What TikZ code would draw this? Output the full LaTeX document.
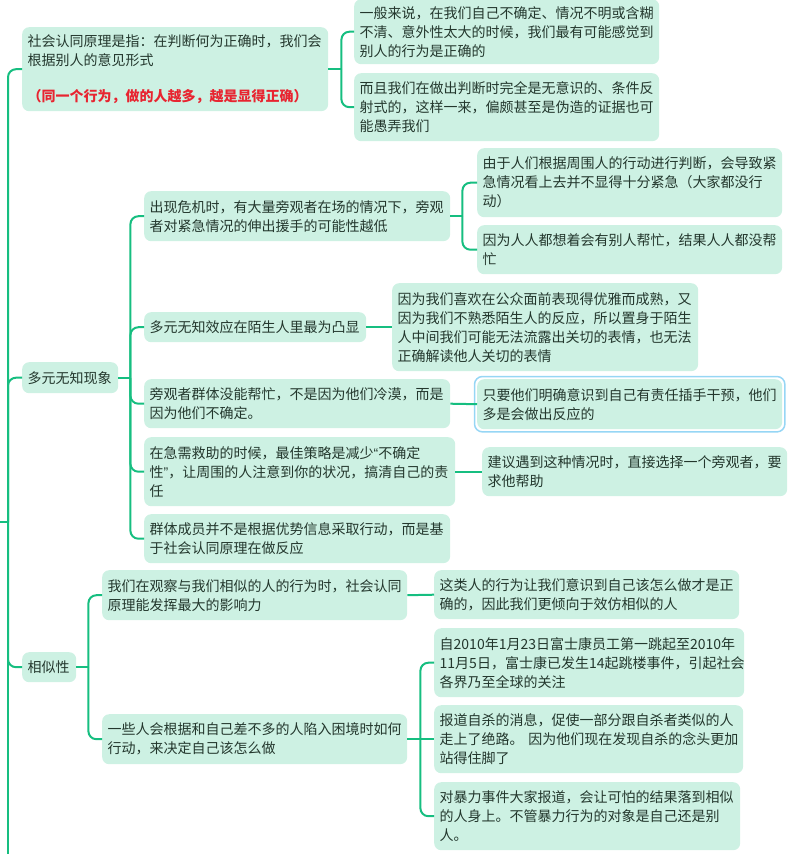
\documentclass[tikz,border=0pt]{standalone}
\usepackage{fontspec}
\setmainfont{Noto Sans CJK SC}
\newfontfamily\quotefont{Liberation Sans}
\usepackage{tikz}
\definecolor{mapgreen}{RGB}{22,190,128}
\definecolor{mapfill}{RGB}{205,241,227}
\definecolor{maptext}{RGB}{35,55,45}
\definecolor{mapred}{RGB}{232,36,48}
\definecolor{mapblue}{RGB}{150,214,245}

\begin{document}
\begin{tikzpicture}[x=1pt, y=-1pt,
  topic/.style={anchor=north west, fill=mapfill, text=maptext, rounded corners=7pt,
    font=\fontsize{14}{19}\selectfont, align=left, inner xsep=5.5pt, inner ysep=2pt},
  link/.style={mapgreen, line width=2pt, rounded corners=8pt}]
\useasboundingbox (0,0) rectangle (800,854);

% social proof rule
\node[topic, text width=295pt, minimum height=84pt] (rule) at (22,27)
  {社会认同原理是指：在判断何为正确时，我们会\\根据别人的意见形式\\[17pt]{\color{mapred}\bfseries （同一个行为，做的人越多，越是显得正确）}};
\node[topic, text width=294pt, minimum height=65pt] (rule1) at (354,-1)
  {一般来说，在我们自己不确定、情况不明或含糊\\不清、意外性太大的时候，我们最有可能感觉到\\别人的行为是正确的};
\node[topic, text width=294pt, minimum height=68pt] (rule2) at (354,73)
  {而且我们在做出判断时完全是无意识的、条件反\\射式的，这样一来，偏颇甚至是伪造的证据也可\\能愚弄我们};

% pluralistic ignorance
\node[topic, text width=85pt, minimum height=31pt] (ign) at (22,362) {多元无知现象};
\node[topic, text width=295pt, minimum height=50pt] (ign1) at (144,191)
  {出现危机时，有大量旁观者在场的情况下，旁观\\者对紧急情况的伸出援手的可能性越低};
\node[topic, text width=294pt, minimum height=69pt] (ign1a) at (477,148)
  {由于人们根据周围人的行动进行判断，会导致紧\\急情况看上去并不显得十分紧急（大家都没行\\动）};
\node[topic, text width=294pt, minimum height=49pt] (ign1b) at (477,225)
  {因为人人都想着会有别人帮忙，结果人人都没帮\\忙};
\node[topic, text width=211pt, minimum height=30pt] (ign2) at (144,312) {多元无知效应在陌生人里最为凸显};
\node[topic, text width=295pt, minimum height=88pt] (ign2a) at (392,283)
  {因为我们喜欢在公众面前表现得优雅而成熟，又\\因为我们不熟悉陌生人的反应，所以置身于陌生\\人中间我们可能无法流露出关切的表情，也无法\\正确解读他人关切的表情};
\node[topic, text width=295pt, minimum height=49pt] (ign3) at (144,379)
  {旁观者群体没能帮忙，不是因为他们冷漠，而是\\因为他们不确定。};
\node[topic, text width=294pt, minimum height=50pt] (ign3a) at (477,379)
  {只要他们明确意识到自己有责任插手干预，他们\\多是会做出反应的};
\draw[mapblue, line width=1.5pt, rounded corners=8pt] ([shift={(-2.5pt,2.5pt)}]ign3a.north west) rectangle ([shift={(2.5pt,-2.5pt)}]ign3a.south east);
\node[topic, text width=300pt, minimum height=69pt] (ign4) at (144,437)
  {在急需救助的时候，最佳策略是减少{\quotefont “}不确定\\性{\quotefont ”}，让周围的人注意到你的状况，搞清自己的责\\任};
\node[topic, text width=294pt, minimum height=49pt] (ign4a) at (482,447)
  {建议遇到这种情况时，直接选择一个旁观者，要\\求他帮助};
\node[topic, text width=295pt, minimum height=49pt] (ign5) at (144,514)
  {群体成员并不是根据优势信息采取行动，而是基\\于社会认同原理在做反应};

% similarity
\node[topic, text width=43pt, minimum height=30pt] (sim) at (22,652) {相似性};
\node[topic, text width=294pt, minimum height=50pt] (sim1) at (102,570)
  {我们在观察与我们相似的人的行为时，社会认同\\原理能发挥最大的影响力};
\node[topic, text width=294pt, minimum height=49pt] (sim1a) at (434,570)
  {这类人的行为让我们意识到自己该怎么做才是正\\确的，因此我们更倾向于效仿相似的人};
\node[topic, text width=294pt, minimum height=50pt] (sim2) at (102,714)
  {一些人会根据和自己差不多的人陷入困境时如何\\行动，来决定自己该怎么做};
\node[topic, text width=299pt, minimum height=69pt] (sim2a) at (434,628)
  {自2010年1月23日富士康员工第一跳起至2010年\\11月5日，富士康已发生14起跳楼事件，引起社会\\各界乃至全球的关注};
\node[topic, text width=298pt, minimum height=68pt] (sim2b) at (434,705)
  {报道自杀的消息，促使一部分跟自杀者类似的人\\走上了绝路。~因为他们现在发现自杀的念头更加\\站得住脚了};
\node[topic, text width=295pt, minimum height=68pt] (sim2c) at (434,782)
  {对暴力事件大家报道，会让可怕的结果落到相似\\的人身上。不管暴力行为的对象是自己还是别\\人。};

% trunk
\coordinate (rootin) at (0,522);
\coordinate (trunk) at (8,522);
\coordinate (trunkend) at (8,860);
\draw[link] (rootin) -- (trunk);
\draw[link] (trunk) -- (trunkend);
\foreach \n in {rule,ign,sim} \draw[link] (trunk) |- (\n.west);

% brackets
\coordinate (rulej) at ([xshift=13pt]rule.east);
\draw[link] (rule.east) -- (rulej);
\foreach \n in {rule1,rule2} \draw[link] (rulej) |- (\n.west);

\coordinate (ignj) at ([xshift=12pt]ign.east);
\draw[link] (ign.east) -- (ignj);
\foreach \n in {ign1,ign2,ign3,ign4,ign5} \draw[link] (ignj) |- (\n.west);

\coordinate (ign1j) at ([xshift=12pt]ign1.east);
\draw[link] (ign1.east) -- (ign1j);
\foreach \n in {ign1a,ign1b} \draw[link] (ign1j) |- (\n.west);

\draw[link] (ign2.east) -- (ign2a.west);
\draw[link] (ign3.east) -- (ign3a.west);
\draw[link] (ign4.east) -- (ign4a.west);

\coordinate (simj) at ([xshift=12pt]sim.east);
\draw[link] (sim.east) -- (simj);
\foreach \n in {sim1,sim2} \draw[link] (simj) |- (\n.west);
\draw[link] (sim1.east) -- (sim1a.west);

\coordinate (sim2j) at ([xshift=13pt]sim2.east);
\draw[link] (sim2.east) -- (sim2j) -- (sim2b.west);
\foreach \n in {sim2a,sim2c} \draw[link] (sim2j) |- (\n.west);
\end{tikzpicture}
\end{document}
